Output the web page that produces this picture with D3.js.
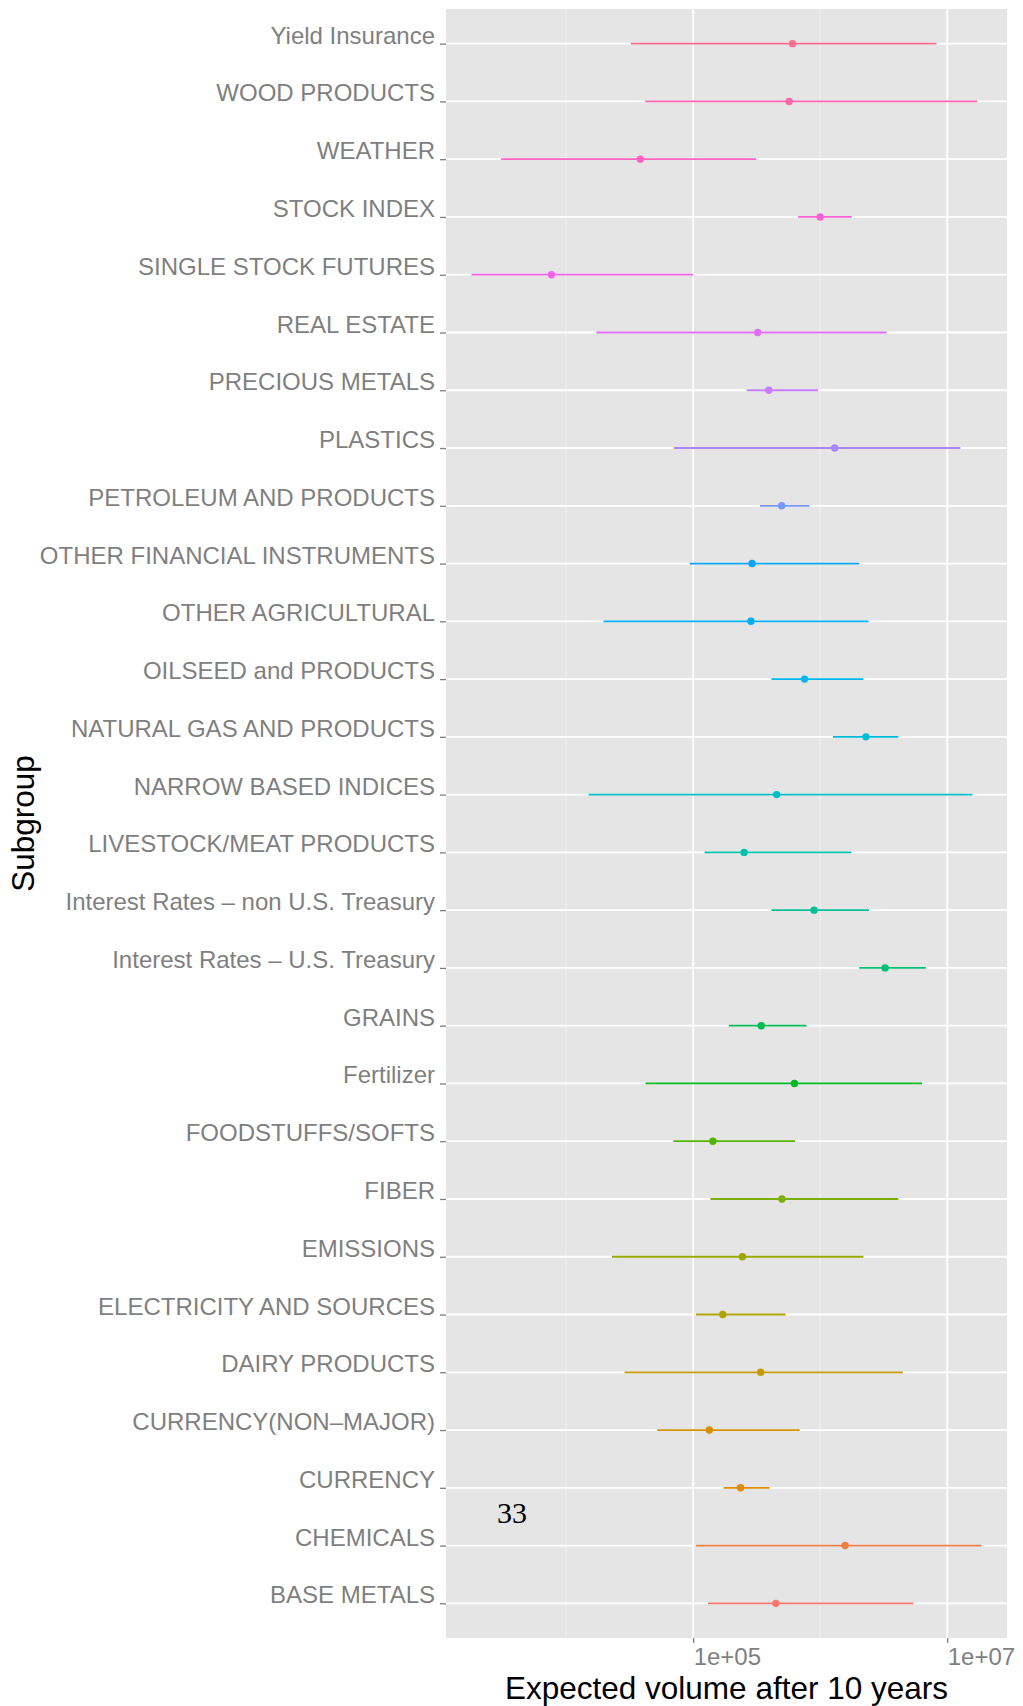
<!DOCTYPE html>
<html>
<head>
<meta charset="utf-8">
<script src="https://cdn.jsdelivr.net/npm/d3@7"></script>
<style>
  html, body { margin: 0; padding: 0; background: #fff; }
  svg { display: block; font-family: "Liberation Sans", Arial, sans-serif; }
</style>
</head>
<body>
<div id="chart"></div>
<script>
// factor levels, bottom of the axis first (same order ggplot uses)
const subgroups = [
  "BASE METALS", "CHEMICALS", "CURRENCY", "CURRENCY(NON–MAJOR)", "DAIRY PRODUCTS",
  "ELECTRICITY AND SOURCES", "EMISSIONS", "FIBER", "FOODSTUFFS/SOFTS", "Fertilizer",
  "GRAINS", "Interest Rates – U.S. Treasury", "Interest Rates – non U.S. Treasury",
  "LIVESTOCK/MEAT PRODUCTS", "NARROW BASED INDICES", "NATURAL GAS AND PRODUCTS",
  "OILSEED and PRODUCTS", "OTHER AGRICULTURAL", "OTHER FINANCIAL INSTRUMENTS",
  "PETROLEUM AND PRODUCTS", "PLASTICS", "PRECIOUS METALS", "REAL ESTATE",
  "SINGLE STOCK FUTURES", "STOCK INDEX", "WEATHER", "WOOD PRODUCTS", "Yield Insurance"
];

const lowVolume = [
  131000, 105000, 174000, 52200, 28800,
  105000, 23000, 137000, 70000, 42200,
  191000, 2030000, 413000,
  123000, 15000, 1260000,
  413000, 19700, 94000,
  336000, 70500, 264000, 17300,
  1800, 671000, 3080, 41900, 32300
];

const expectedVolume = [
  448000, 1570000, 236000, 134000, 340000,
  171000, 244000, 500000, 143000, 627000,
  343000, 3240000, 895000,
  252000, 454000, 2290000,
  753000, 285000, 291000,
  497000, 1300000, 394000, 322000,
  7670, 1000000, 38400, 569000, 605000
];

const highVolume = [
  5420000, 18600000, 399000, 690000, 4470000,
  532000, 2190000, 4120000, 635000, 6340000,
  780000, 6790000, 2420000,
  1760000, 15800000, 4120000,
  2190000, 2400000, 2030000,
  824000, 12700000, 964000, 3330000,
  100000, 1770000, 314000, 17200000, 8220000
];

const xTickValues = [1e5, 1e7];
const xMinorValues = [1e4, 1e6];
const xTitle = "Expected volume after 10 years";
const yTitle = "Subgroup";

// ggplot2 default hue palette (HCL in CIELUV, c = 100, l = 65)
function hueColor(h) {
  const L = 65, C = 100;
  const hr = h * Math.PI / 180;
  const u = C * Math.cos(hr), v = C * Math.sin(hr);
  const Xn = 95.047, Yn = 100, Zn = 108.883;
  const den = Xn + 15 * Yn + 3 * Zn;
  const un = 4 * Xn / den, vn = 9 * Yn / den;
  const Y = Yn * Math.pow((L + 16) / 116, 3);
  const up = u / (13 * L) + un, vp = v / (13 * L) + vn;
  const X = Y * 9 * up / (4 * vp);
  const Z = Y * (12 - 3 * up - 20 * vp) / (4 * vp);
  const lin = [
    ( 3.240479 * X - 1.537150 * Y - 0.498535 * Z) / 100,
    (-0.969256 * X + 1.875992 * Y + 0.041556 * Z) / 100,
    ( 0.055648 * X - 0.204043 * Y + 1.057311 * Z) / 100
  ];
  const [r, g, b] = lin.map(c => {
    const s = c <= 0.0031308 ? 12.92 * c : 1.055 * Math.pow(c, 1 / 2.4) - 0.055;
    return Math.round(Math.max(0, Math.min(1, s)) * 255);
  });
  return d3.rgb(r, g, b).formatHex();
}

class IntervalChart {
  constructor() {
    this.width = 1023;
    this.height = 1706;
    this.margin = { top: 9, right: 16, bottom: 68, left: 446 };
    this.rows = subgroups.map((name, i) => ({
      name,
      low: lowVolume[i],
      mid: expectedVolume[i],
      high: highVolume[i],
      color: hueColor(15 + i * 360 / subgroups.length)
    }));
  }

  render() {
    const { width, height, margin } = this;
    const left = margin.left, right = width - margin.right;
    const top = margin.top, bottom = height - margin.bottom;

    // log range of the data plus ggplot's 5% expansion
    const logs = lowVolume.concat(highVolume).map(Math.log10);
    const lo = d3.min(logs), hi = d3.max(logs);
    const pad = (hi - lo) * 0.05;

    this.x = d3.scaleLog()
      .domain([Math.pow(10, lo - pad), Math.pow(10, hi + pad)])
      .range([left, right]);

    this.y = d3.scalePoint()
      .domain(subgroups.slice().reverse())
      .range([top, bottom])
      .padding(0.6);

    const svg = d3.select("#chart").append("svg")
      .attr("width", width)
      .attr("height", height);

    svg.append("rect")
      .attr("x", left).attr("y", top)
      .attr("width", right - left).attr("height", bottom - top)
      .attr("fill", "#E5E5E5");

    this.drawGrid(svg, top, bottom, left, right);
    this.drawIntervals(svg);
    this.drawAxes(svg, bottom, left);
    this.drawTitles(svg, top, bottom, left, right);
  }

  drawGrid(svg, top, bottom, left, right) {
    const grid = svg.append("g").attr("class", "grid");

    grid.selectAll("line.minor")
      .data(xMinorValues)
      .enter().append("line")
      .attr("class", "minor")
      .attr("x1", d => this.x(d)).attr("x2", d => this.x(d))
      .attr("y1", top).attr("y2", bottom)
      .attr("stroke", "#F2F2F2")
      .attr("stroke-width", 0.9);

    grid.selectAll("line.major")
      .data(xTickValues)
      .enter().append("line")
      .attr("class", "major")
      .attr("x1", d => this.x(d)).attr("x2", d => this.x(d))
      .attr("y1", top).attr("y2", bottom)
      .attr("stroke", "#fff")
      .attr("stroke-width", 1.8);

    grid.selectAll("line.row")
      .data(subgroups)
      .enter().append("line")
      .attr("class", "row")
      .attr("x1", left).attr("x2", right)
      .attr("y1", d => this.y(d)).attr("y2", d => this.y(d))
      .attr("stroke", "#fff")
      .attr("stroke-width", 1.8);
  }

  drawIntervals(svg) {
    const marks = svg.append("g").attr("class", "intervals");

    marks.selectAll("line")
      .data(this.rows)
      .enter().append("line")
      .attr("x1", d => this.x(d.low))
      .attr("x2", d => this.x(d.high))
      .attr("y1", d => this.y(d.name))
      .attr("y2", d => this.y(d.name))
      .attr("stroke", d => d.color)
      .attr("stroke-width", 1.8);

    marks.selectAll("circle")
      .data(this.rows)
      .enter().append("circle")
      .attr("cx", d => this.x(d.mid))
      .attr("cy", d => this.y(d.name))
      .attr("r", 3.7)
      .attr("fill", d => d.color);
  }

  drawAxes(svg, bottom, left) {
    const yAxis = svg.append("g")
      .attr("transform", `translate(${left},0)`)
      .call(d3.axisLeft(this.y).tickSize(6).tickPadding(5));
    yAxis.select(".domain").remove();
    yAxis.selectAll(".tick line").attr("stroke", "#7F7F7F").attr("stroke-width", 1.3);
    yAxis.selectAll(".tick text")
      .attr("dy", "-0.02em")
      .attr("fill", "#7F7F7F")
      .style("font-size", "24px");

    const xAxis = svg.append("g")
      .attr("transform", `translate(0,${bottom})`)
      .call(d3.axisBottom(this.x)
        .tickValues(xTickValues)
        .tickSize(5)
        .tickPadding(5)
        .tickFormat(d => "1e+" + String(Math.round(Math.log10(d))).padStart(2, "0")));
    xAxis.select(".domain").remove();
    xAxis.selectAll(".tick line").attr("stroke", "#7F7F7F").attr("stroke-width", 1.3);
    xAxis.selectAll(".tick text")
      .attr("text-anchor", "start")
      .attr("fill", "#7F7F7F")
      .style("font-size", "24px");
  }

  drawTitles(svg, top, bottom, left, right) {
    svg.append("text")
      .attr("x", (left + right) / 2)
      .attr("y", 1699)
      .attr("text-anchor", "middle")
      .attr("fill", "#000")
      .style("font-size", "31.5px")
      .text(xTitle);

    svg.append("text")
      .attr("transform", `translate(34,${(top + bottom) / 2}) rotate(-90)`)
      .attr("text-anchor", "middle")
      .attr("fill", "#000")
      .style("font-size", "31.5px")
      .text(yTitle);

    // page number that sits on top of the panel in the source document
    svg.append("text")
      .attr("x", 497)
      .attr("y", 1523)
      .attr("fill", "#000")
      .style("font-family", "'Liberation Serif', 'DejaVu Serif', serif")
      .style("font-size", "30px")
      .text("33");
  }
}

document.addEventListener("DOMContentLoaded", () => {
  new IntervalChart().render();
});
</script>
</body>
</html>
